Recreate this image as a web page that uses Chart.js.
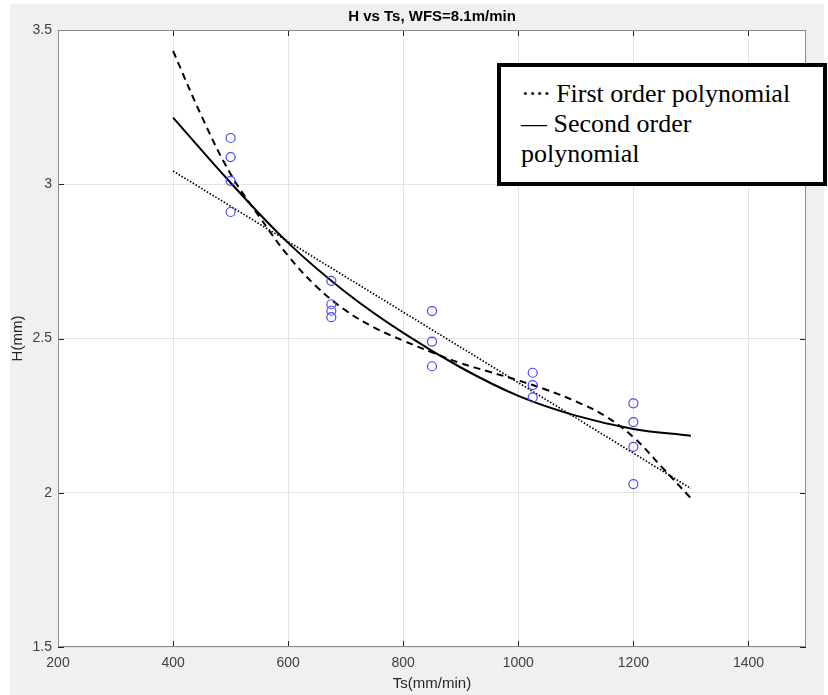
<!DOCTYPE html>
<html>
<head>
<meta charset="utf-8">
<title>H vs Ts</title>
<script src="https://cdn.jsdelivr.net/npm/chart.js@4.4.0/dist/chart.umd.min.js"></script>
<style>
  html, body { margin: 0; padding: 0; background: #fff; overflow: hidden; }
  #fondo { position: absolute; left: 10px; top: 4px; width: 814px; height: 691px; background: #f0f0f0; }
  #grafico { position: absolute; left: 0; top: 0; }
  #leyenda {
    position: absolute; left: 497px; top: 63px; width: 330px; height: 123px;
    box-sizing: border-box; border: 4.5px solid #000; background: #fff;
    font-family: "Liberation Serif", "Times New Roman", serif; font-size: 26px; line-height: 30px;
    padding: 12px 0 0 20px; color: #000; white-space: nowrap;
  }
  #leyenda .puntos { letter-spacing: -1.5px; }
</style>
</head>
<body>
<div id="fondo"></div>
<canvas id="grafico" width="828" height="695"></canvas>
<div id="leyenda"><span class="puntos">····</span> First order polynomial<br>— Second order<br>polynomial</div>

<script>
// Puntos medidos (Ts en mm/min, H en mm)
const tsPuntos = [500, 500, 500, 500, 675, 675, 675, 675, 850, 850, 850, 1025, 1025, 1025, 1200, 1200, 1200, 1200];
const hPuntos = [3.150, 3.088, 3.011, 2.910, 2.687, 2.611, 2.590, 2.569, 2.589, 2.490, 2.410, 2.389, 2.349, 2.309, 2.290, 2.229, 2.149, 2.028];

// Ajuste de primer orden (línea punteada)
const tsLineal = [400, 1300];
const hLineal = [3.043, 2.014];

// Ajuste de segundo orden (línea continua)
const tsCuad = [400, 500, 600, 700, 800, 900, 1000, 1100, 1200, 1300];
const hCuad = [3.216, 3.005, 2.810, 2.650, 2.518, 2.406, 2.314, 2.250, 2.207, 2.185];

// Ajuste de orden superior (línea discontinua)
const tsCubica = [400, 450, 500, 550, 600, 650, 700, 750, 800, 850, 900, 950, 1000, 1050, 1100, 1150, 1200, 1250, 1300];
const hCubica = [3.432, 3.219, 3.033, 2.895, 2.768, 2.667, 2.591, 2.535, 2.493, 2.455, 2.420, 2.392, 2.364, 2.333, 2.296, 2.250, 2.180, 2.082, 1.982];

// Marcas de los ejes
const ticksX = [200, 400, 600, 800, 1000, 1200, 1400];
const ticksY = [1.5, 2, 2.5, 3, 3.5];

const titulo = 'H vs Ts, WFS=8.1m/min';

function pares(xs, ys) {
    return xs.map((x, i) => ({ x: x, y: ys[i] }));
}

// Fondo blanco, marco y marcas interiores estilo MATLAB
const marco = {
    id: 'marco',
    beforeDraw(chart) {
        const { ctx, chartArea: a } = chart;
        ctx.save();
        ctx.fillStyle = '#fff';
        ctx.fillRect(a.left, a.top, a.right - a.left, a.bottom - a.top);
        ctx.restore();
    },
    afterDraw(chart) {
        const { ctx, chartArea: a, scales } = chart;
        ctx.save();
        ctx.strokeStyle = '#262626';
        ctx.lineWidth = 1;
        ctx.beginPath();
        ticksX.forEach(v => {
            const px = Math.round(scales.x.getPixelForValue(v)) + 0.5;
            ctx.moveTo(px, a.bottom); ctx.lineTo(px, a.bottom - 6);
            ctx.moveTo(px, a.top); ctx.lineTo(px, a.top + 6);
        });
        ticksY.forEach(v => {
            const py = Math.round(scales.y.getPixelForValue(v)) + 0.5;
            ctx.moveTo(a.left, py); ctx.lineTo(a.left + 6, py);
            ctx.moveTo(a.right, py); ctx.lineTo(a.right - 6, py);
        });
        ctx.stroke();
        ctx.strokeStyle = '#8a8a8a';
        ctx.strokeRect(a.left + 0.5, a.top + 0.5, a.right - a.left - 1, a.bottom - a.top - 1);
        ctx.fillStyle = '#000';
        ctx.font = 'bold 15px "Liberation Sans", Arial, sans-serif';
        ctx.textAlign = 'center';
        ctx.textBaseline = 'middle';
        ctx.fillText(titulo, (a.left + a.right) / 2, 17);
        ctx.restore();
    }
};

const fuenteTicks = { family: '"Liberation Sans", Arial, sans-serif', size: 14 };
const fuenteTitulo = { family: '"Liberation Sans", Arial, sans-serif', size: 15 };

new Chart(document.getElementById('grafico').getContext('2d'), {
    type: 'scatter',
    data: {
        datasets: [
            {
                label: 'Datos',
                data: pares(tsPuntos, hPuntos),
                pointStyle: 'circle',
                pointRadius: 4.5,
                borderColor: '#4646ff',
                backgroundColor: 'rgba(0,0,0,0)',
                borderWidth: 1.2
            },
            {
                label: 'Primer orden',
                data: pares(tsLineal, hLineal),
                showLine: true,
                pointRadius: 0,
                borderColor: '#000',
                borderWidth: 1.7,
                borderDash: [1.5, 1.8]
            },
            {
                label: 'Segundo orden',
                data: pares(tsCuad, hCuad),
                showLine: true,
                pointRadius: 0,
                borderColor: '#000',
                borderWidth: 2,
                tension: 0.4
            },
            {
                label: 'Orden superior',
                data: pares(tsCubica, hCubica),
                showLine: true,
                pointRadius: 0,
                borderColor: '#000',
                borderWidth: 2,
                borderDash: [7, 5],
                tension: 0.4
            }
        ]
    },
    options: {
        responsive: false,
        animation: false,
        layout: { padding: { left: 0, top: 30, right: 22, bottom: 0 } },
        plugins: {
            legend: { display: false },
            tooltip: { enabled: false }
        },
        scales: {
            x: {
                type: 'linear',
                min: 200,
                max: 1500,
                afterBuildTicks: s => { s.ticks = ticksX.map(v => ({ value: v })); },
                afterFit: s => { s.height = 48; },
                grid: { color: '#e3e3e3', drawTicks: false },
                border: { display: false },
                ticks: { font: fuenteTicks, color: '#404040', padding: 8, maxRotation: 0, callback: v => String(v) },
                title: { display: true, text: 'Ts(mm/min)', font: fuenteTitulo, color: '#262626', padding: { top: 0, bottom: 2 } }
            },
            y: {
                type: 'linear',
                min: 1.5,
                max: 3.5,
                afterBuildTicks: s => { s.ticks = ticksY.map(v => ({ value: v })); },
                afterFit: s => { s.width = 58; },
                grid: { color: '#e3e3e3', drawTicks: false },
                border: { display: false },
                ticks: { font: fuenteTicks, color: '#404040', padding: 6, callback: v => String(v) },
                title: { display: true, text: 'H(mm)', font: fuenteTitulo, color: '#262626', padding: { top: 9, bottom: 0 } }
            }
        }
    },
    plugins: [marco]
});
</script>
</body>
</html>
